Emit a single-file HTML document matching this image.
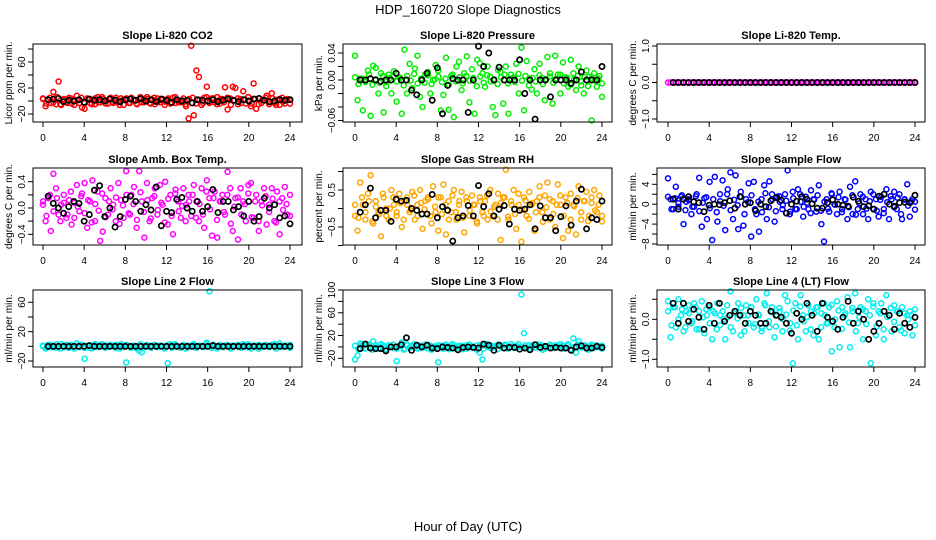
<!DOCTYPE html>
<html><head><meta charset="utf-8"><style>
html,body{margin:0;padding:0;background:#fff}
svg{display:block}
text{font-family:"Liberation Sans",Arial,sans-serif}
</style></head><body>
<svg id="chart" width="936" height="540" viewBox="0 0 936 540" xmlns="http://www.w3.org/2000/svg">
<text x="468" y="14" font-size="13" text-anchor="middle">HDP_160720  Slope Diagnostics</text>
<text x="468" y="531" font-size="13" text-anchor="middle">Hour of Day (UTC)</text>
</svg>
<script>
const xTicks = [0,4,8,12,16,20,24];
const co2Values = [4,-8,2,-3,14,-5,30,-6,3,-2,5,-4,2,8,-3,-10,-12,4,-3,2,-5,6,-2,3,1,-4,5,-3,2,-2,4,-6,3,-3,5,2,-4,3,-2,1,6,-3,2,-5,4,-2,3,-1,2,-4,5,-3,1,-2,4,-8,-27,85,-22,47,37,-6,5,22,-3,4,-2,6,-4,3,21,-13,4,22,20,-5,3,15,-4,6,-8,27,-12,4,-3,2,8,-5,12,-3,2,-6,5,-4,3,2];
const co2Band = [3,-4,5,-2,6,-5,2,-3,4,-6,1,5,-3,2,-5,4,-2,6,-4,3,-1,5,-6,2,4,-3,1,-5,6,-2,3,-4,5,-1,2,-6,4,-3,6,-2,1,-5,3,5,-4,2,-3,6,-1,4,-5,3,-2,5,-6,1,4,-3,2,6,-4,3,-5,1,5,-2,4,-6,3,-1,2,-4];
const co2Black = [2,3,4,-1,1,0,2,-2,3,1,2,0,3,1,-1,2,3,1,4,0,2,-1,3,1,-2,2,0,1,-3,2,1,0,2,-1,1,3,1,-1,2,0,3,4,1,-1,0,2,1,2];
const presValues = [0.036,-0.03,0.002,-0.045,0,0.014,-0.053,0.021,0.018,-0.02,0.01,-0.048,-0.003,0.008,-0.02,0.013,-0.032,0.004,-0.05,0.045,-0.02,0.024,-0.012,0.017,0.036,-0.025,-0.04,0.008,0.012,-0.02,0,0.022,0.014,-0.045,-0.022,0.033,-0.044,0.006,-0.055,0.02,0.027,-0.015,0.01,0.035,-0.033,0.016,-0.05,0.03,0.025,0.01,-0.01,0.02,0.005,-0.04,-0.052,0.015,0.012,-0.035,0.02,-0.05,0.008,0.004,0.024,-0.02,0.048,-0.045,0.028,0.002,-0.014,0.016,-0.02,0.024,0.003,-0.03,0.034,0.01,-0.035,0.036,0.008,-0.02,0.026,0.004,-0.01,0.03,0.01,-0.015,0.02,-0.008,-0.02,0.014,0.005,-0.06,0.01,-0.01,0.006,-0.025];
const presBand = [0.004,-0.006,0.002,-0.003,0.008,-0.007,0.001,-0.004,0.006,-0.009,0.003,0.005,-0.002,0.003,-0.008,0.006,-0.001,0.009,-0.005,0.002,-0.004,0.007,-0.006,0.001,0.005,-0.003,0.002,-0.007,0.008,-0.002,0.004,-0.005,0.006,-0.001,0.003,-0.009,0.005,-0.004,0.007,-0.002,0.001,-0.006,0.004,0.008,-0.005,0.002,-0.003,0.009,-0.001,0.006,-0.008,0.003,-0.002,0.007,-0.006,0.001,0.005,-0.004,0.002,0.008,-0.005,0.003,-0.007,0.001,0.006,-0.002,0.004,-0.009,0.003,-0.001,0.002,-0.005];
const presBlack = [0,0,0.002,0,-0.002,0,0,0.01,0,0,-0.015,-0.022,0,0.01,-0.03,0.018,-0.05,-0.008,0.002,0,0,-0.048,0,0.05,0.02,0.04,0,0.019,0,0,0,0.03,-0.02,0,-0.058,0,0,-0.025,0,0,0,-0.005,0,0.012,0,0,0,0.02];
const tempValues = [0,0,0,0,0,0,0,0,0,0,0,0,0,0,0,0,0,0,0,0,0,0,0,0,0,0,0,0,0,0,0,0,0,0,0,0,0,0,0,0,0,0,0,0,0,0,0,0,0,0,0,0,0,0,0,0,0,0,0,0,0,0,0,0,0,0,0,0,0,0,0,0,0,0,0,0,0,0,0,0,0,0,0,0,0,0,0,0,0,0,0,0,0,0,0,0];
const tempBand = [];
const tempBlack = [0,0,0,0,0,0,0,0,0,0,0,0,0,0,0,0,0,0,0,0,0,0,0,0,0,0,0,0,0,0,0,0,0,0,0,0,0,0,0,0,0,0,0,0,0,0,0,0];
const ambValues = [0.1,-0.2,0.15,-0.35,0.52,0.3,-0.1,0.05,0.2,-0.15,0.12,-0.25,0.08,0.35,-0.05,0.22,0.38,-0.3,0.1,0.42,-0.2,0.25,-0.5,-0.36,0.15,-0.1,0.3,0.05,-0.2,0.38,0.12,-0.15,0.56,-0.08,0.2,0.32,-0.3,0.56,0.1,-0.45,0.38,-0.2,0.15,0.3,-0.1,0.35,0.05,0.4,-0.25,0.2,-0.4,0.28,0.1,-0.15,0.3,0.05,0.2,-0.12,0.35,0.1,-0.2,0.3,-0.3,0.42,0.15,-0.42,0.25,-0.45,0.1,0.2,-0.1,0.55,0.3,-0.35,0.15,-0.48,0.3,0.1,-0.2,0.35,0.38,-0.15,0.2,-0.35,0.1,0.3,-0.25,0.05,0.3,-0.2,0.25,-0.4,0.15,0.32,-0.1,0.2];
const ambBand = [0.05,-0.12,0.2,-0.05,0.15,-0.2,0.08,-0.1,0.25,-0.15,0.02,0.18,-0.08,0.12,-0.22,0.06,-0.04,0.22,-0.14,0.1,-0.02,0.16,-0.24,0.04,0.2,-0.1,0.06,-0.18,0.24,-0.06,0.12,-0.16,0.18,-0.03,0.08,-0.22,0.14,-0.12,0.22,-0.05,0.03,-0.2,0.1,0.2,-0.15,0.06,-0.1,0.25,-0.02,0.15,-0.18,0.1,-0.06,0.2,-0.24,0.02,0.16,-0.1,0.06,0.22,-0.14,0.1,-0.2,0.04,0.18,-0.06,0.14,-0.22,0.1,-0.03,0.06,-0.12];
const ambBlack = [0.18,0.07,0,-0.08,0.02,0.1,0.07,-0.2,-0.1,0.27,0.34,-0.13,0,-0.29,-0.13,0.13,0.18,0.1,-0.05,0.05,-0.03,0.32,-0.27,-0.05,-0.07,0.13,0.16,0,-0.05,0.1,-0.05,0.02,0.28,-0.07,0.1,0.1,-0.03,0.02,-0.12,0.1,-0.2,-0.13,0.15,0,0.05,-0.15,-0.12,-0.24];
const rhValues = [-0.2,-0.6,0.7,0.1,-0.3,0.4,0.9,-0.4,0.2,-0.1,-0.75,0.3,0,-0.3,0.5,0.1,-0.2,0.4,-0.5,0.2,0.3,-0.1,0.45,-0.3,0.1,0.5,-0.55,0.2,0.3,-0.2,0.6,-0.1,-0.6,0.3,0.65,-0.7,0.2,-0.1,0.5,-0.3,0.1,0.45,-0.65,0.2,-0.2,0.35,0.1,-0.4,0.3,-0.1,0.2,-0.3,0.5,-0.2,0.1,0.4,-0.85,0.3,1.05,-0.3,0.2,0.5,-0.55,0.1,-0.9,0.3,-0.2,0.45,0.1,-0.6,0.2,0.6,-0.1,0.35,0.7,-0.3,0.2,-0.5,0.65,0.1,-0.8,0.3,-0.6,0.4,0.1,-0.7,0.6,-0.3,0.2,0.45,-0.2,0.3,0.5,-0.1,0.35,-0.35];
const rhBand = [0.1,-0.25,0.3,-0.1,0.2,-0.35,0.05,-0.15,0.4,-0.2,0.0,0.3,-0.1,0.15,-0.3,0.1,-0.05,0.35,-0.2,0.15,-0.02,0.25,-0.4,0.05,0.3,-0.15,0.1,-0.3,0.35,-0.1,0.2,-0.25,0.3,-0.05,0.1,-0.35,0.2,-0.2,0.35,-0.08,0.05,-0.3,0.15,0.3,-0.22,0.1,-0.15,0.4,-0.03,0.22,-0.28,0.15,-0.1,0.3,-0.36,0.03,0.25,-0.15,0.1,0.35,-0.2,0.15,-0.3,0.06,0.28,-0.1,0.2,-0.34,0.15,-0.05,0.1,-0.2];
const rhBlack = [-0.1,0.1,0.55,-0.25,-0.05,-0.05,-0.35,0.25,0.2,0.22,0,-0.05,-0.15,-0.15,0.38,-0.25,0.05,-0.05,-0.88,-0.25,-0.2,0.08,-0.2,0.62,0.05,0.4,-0.2,-0.02,0.08,-0.42,-0.02,-0.05,-0.02,0.1,-0.55,0.07,-0.25,-0.25,-0.6,-0.22,0.07,-0.45,0.2,0.52,-0.55,-0.25,-0.3,0.2];
const flowValues = [5.2,1,-1,3.5,-0.5,1.5,-4,0.5,1,-2,-0.5,2,5.3,-4.5,1.2,-3,4.5,-7.2,5.5,-3.5,2,4.8,-5.2,3,6.4,-3,5.8,-5,2.5,-4.3,1,4.2,-6.5,4.5,-2,-5.5,1,3.8,-3,4.6,2,-3.5,1.5,0.5,-1,2,6.8,-1.5,2.5,-1,3,0.5,-2.5,1.5,-1,2.8,1,-1.5,3.8,-4,-7.5,1,-1.5,2,0,-2,2.5,-1,1,-3,3.5,-2,4.6,-1,2,-2,1,-3,2.5,-1,1,-2.5,1.5,-1,3,-3,1,2.5,-1,2,-3,1,4,-2.5,1,0.5];
const flowBand = [1.5,-1,1.2,0.2,1.8,-1.2,0.8,-0.5,1.6,-1.4,0.3,1.4,-0.8,1,-1.6,0.6,-0.3,2,-1.2,0.9,-0.2,1.5,-2,0.4,1.8,-1,0.5,-1.6,2.2,-0.6,1,-1.4,1.6,-0.2,0.7,-2,1.2,-1,2,-0.5,0.3,-1.8,0.9,1.8,-1.3,0.5,-0.9,2.2,-0.1,1.4,-1.6,0.9,-0.6,1.8,-2.1,0.2,1.5,-0.9,0.6,2,-1.3,0.9,-1.8,0.4,1.6,-0.6,1.3,-2,0.9,-0.3,0.6,-1.1];
const flowBlack = [1,-1,1,1.5,0.5,0.3,-1.5,-0.2,0,-0.1,0.3,0.7,-0.8,1.5,0,0.3,-1.3,0,-0.5,0.7,1.3,0.8,-1.8,0,0.6,1.5,1,0.1,-0.8,-0.8,0.3,0.9,0,-0.2,-0.4,1.4,0.6,-0.5,-0.3,-1,1.6,2,0,-0.4,0.3,0.4,0.3,1.8];
const line2Values = [0,-3,2,-1,1,-2,0,3,-1,2,-2,1,0,4,-1,2,-17,1,-2,0,3,-1,2,0,1,-1,2,0,-2,1,3,-1,-22,1,-2,0,-1,-6,-8,1,2,-1,0,2,-1,1,0,-2,-23,3,-1,1,0,-2,2,1,-1,0,3,-2,1,0,-1,5,75,-2,1,0,2,-1,1,0,-2,1,0,2,-1,3,0,-1,-3,1,0,2,-1,1,0,-1,2,3,0,4,-1,1,0,2];
const line2Band = [1,-2,2,-1,3,-3,1,-1,2,-3,0,2,-2,1,-3,2,-1,3,-2,1,0,2,-3,1,2,-1,1,-3,3,-1,1,-2,2,0,1,-3,2,-2,3,-1,0,-3,1,2,-2,1,-1,3,0,2,-3,1,-1,2,-3,0,2,-2,1,3,-2,1,-3,0,2,-1,2,-3,1,0,1,-2];
const line2Black = [0,0,0,0,0,0,0,0,1,0,0,0,0,0,0,0,0,0,0,0,0,0,0,0,0,0,0,0,0,0,0,0,1,0,0,0,0,0,0,0,0,0,0,0,0,0,0,0];
const line3Values = [-22,-15,6,2,-3,4,-1,10,3,-2,5,0,-4,3,1,-2,-25,2,8,-3,4,-1,2,0,3,-2,1,4,-3,2,0,-1,-27,2,-3,4,0,-2,3,1,-1,2,0,-3,4,1,-2,3,-10,-22,2,0,3,-1,2,4,1,-2,3,0,5,-1,2,0,92,24,-2,3,1,-1,4,0,2,-3,1,4,-2,3,0,1,2,-2,5,-4,15,-10,10,0,2,-3,1,4,-2,3,0,2];
const line3Band = [2,-4,5,-2,4,-5,1,-3,3,-5,0,4,-3,2,-5,3,-1,5,-3,2,-1,4,-5,1,3,-2,1,-4,5,-2,2,-4,3,-1,1,-5,3,-3,5,-2,0,-4,2,4,-3,1,-2,5,0,3,-4,2,-1,4,-5,1,3,-2,1,5,-3,2,-4,0,4,-1,3,-5,2,-1,1,-3];
const line3Black = [-3,5,-2,-3,-3,-7,0,0,4,16,-6,3,0,3,-2,-3,0,-1,-2,-5,-1,0,-1,-2,5,3,-6,3,-2,-1,-1,-4,-2,-5,4,-1,1,-2,-1,-2,-2,-6,0,2,-2,-2,1,-1];
const line4Values = [0.45,-0.45,0.3,-0.2,0.5,0.1,-0.3,0.2,0.35,-0.1,0.4,-0.25,0.2,0.45,-0.35,0.1,0.3,-0.5,0.15,0.4,-0.15,0.2,-0.5,0.05,0.7,-0.3,0.2,0.4,-0.4,0.1,0.35,-0.1,0.3,-0.2,0.5,0.1,-0.3,0.4,0.65,-0.2,0.3,-0.45,0.1,0.2,-0.3,0.6,0.45,-0.1,-1.1,0.4,-0.5,0.6,0.1,-0.3,0.35,0.2,-0.4,0.3,-0.5,0.15,0.4,-0.1,0.3,-0.8,-0.2,0.45,-0.7,0.3,0.1,0.55,-0.7,0.2,0.65,-0.1,0.3,-0.5,0.2,0.5,-1.1,0.4,-0.4,0.2,0.4,-0.5,0.6,0.1,-0.3,0.35,0.2,-0.2,0.3,-0.35,0.1,0.2,-0.4,0.25];
const line4Band = [0.2,-0.15,0.3,0.0,0.25,-0.2,0.15,-0.05,0.3,-0.25,0.05,0.25,-0.1,0.2,-0.25,0.1,0.0,0.35,-0.2,0.15,0.02,0.28,-0.3,0.1,0.3,-0.12,0.12,-0.22,0.35,-0.05,0.18,-0.18,0.28,0.0,0.12,-0.28,0.22,-0.15,0.32,-0.05,0.06,-0.25,0.15,0.3,-0.2,0.1,-0.1,0.36,0.0,0.22,-0.24,0.15,-0.08,0.28,-0.3,0.05,0.25,-0.12,0.1,0.32,-0.18,0.15,-0.25,0.06,0.28,-0.06,0.2,-0.28,0.15,0.0,0.1,-0.15];
const line4Black = [0.4,-0.1,0.4,-0.05,0.25,0.05,-0.25,0.35,-0.1,0.4,-0.05,0.1,0.2,0.1,-0.1,0.2,0.1,-0.1,-0.1,0.2,0.1,0.05,-0.1,-0.35,0.15,0,0.4,0.1,-0.3,0.4,0.05,-0.05,-0.25,0.05,0.45,-0.1,0.2,0,-0.5,-0.3,-0.1,0.2,0.1,-0.25,0.15,-0.1,-0.2,0.05];
const co2Ticks=[-20,0,20,40,60,80], co2Labels=[-20,20,60];
const presTicks=[-0.06,-0.04,-0.02,0,0.02,0.04], presLabels=["0.04","0.00","-0.06"];
const tempTicks=[-1,-0.5,0,0.5,1], tempLabels=["1.0","0.0","-1.0"];
const ambTicks=[-0.4,-0.2,0,0.2,0.4], ambLabels=["0.4","0.0","-0.4"];
const rhTicks=[-1,-0.5,0,0.5,1], rhLabels=["0.5","-0.5"];
const flowTicks=[-8,-6,-4,-2,0,2,4,6], flowLabels=["4","0","-4","-8"];
const line2Ticks=[-20,0,20,40,60,80], line2Labels=["20","60","-20"];
const line3Ticks=[-20,0,20,40,60,80,100], line3Labels=["100","60","20","-20"];
const line4Ticks=[-1,-0.5,0,0.5], line4Labels=["0.0","-1.0"];

const cols=[{l:33,r:302,x0:43,x24:290},{l:343,r:612,x0:355,x24:602},{l:657,r:925,x0:668,x24:915}];
const rows=[{t:44,b:122},{t:168,b:245},{t:290,b:367}];
const panels=[
 {name:'co2',title:'Slope Li-820 CO2',ylab:'Licor ppm per min.',c:0,r:0,col:'#ff0000',vals:co2Values,band:co2Band,blk:co2Black,ticks:co2Ticks,labels:co2Labels,v1:60,p1:62,v2:-20,p2:114},
 {name:'pressure',title:'Slope Li-820 Pressure',ylab:'kPa per min.',c:1,r:0,col:'#00ee00',vals:presValues,band:presBand,blk:presBlack,ticks:presTicks,labels:presLabels,v1:0.04,p1:53,v2:-0.06,p2:120.5},
 {name:'li820-temp',title:'Slope Li-820 Temp.',ylab:'degrees C per min.',c:2,r:0,col:'#ff00ff',vals:tempValues,band:tempBand,blk:tempBlack,ticks:tempTicks,labels:tempLabels,v1:1,p1:46,v2:-1,p2:119},
 {name:'amb-box-temp',title:'Slope Amb. Box Temp.',ylab:'degrees C per min.',c:0,r:1,col:'#ff00ff',vals:ambValues,band:ambBand,blk:ambBlack,ticks:ambTicks,labels:ambLabels,v1:0.4,p1:181.7,v2:-0.4,p2:234.3},
 {name:'gas-stream-rh',title:'Slope Gas Stream RH',ylab:'percent per min.',c:1,r:1,col:'#ffa500',vals:rhValues,band:rhBand,blk:rhBlack,ticks:rhTicks,labels:rhLabels,v1:0.5,p1:190,v2:-0.5,p2:227},
 {name:'sample-flow',title:'Slope Sample Flow',ylab:'ml/min per min.',c:2,r:1,col:'#0000ff',vals:flowValues,band:flowBand,blk:flowBlack,ticks:flowTicks,labels:flowLabels,v1:4,p1:184.3,v2:-8,p2:244},
 {name:'line2-flow',title:'Slope Line 2 Flow',ylab:'ml/min per min.',c:0,r:2,col:'#00eeee',vals:line2Values,band:line2Band,blk:line2Black,ticks:line2Ticks,labels:line2Labels,v1:60,p1:302.3,v2:-20,p2:361},
 {name:'line3-flow',title:'Slope Line 3 Flow',ylab:'ml/min per min.',c:1,r:2,col:'#00eeee',vals:line3Values,band:line3Band,blk:line3Black,ticks:line3Ticks,labels:line3Labels,v1:100,p1:290,v2:-20,p2:358.3},
 {name:'line4-flow',title:'Slope Line 4 (LT) Flow',ylab:'ml/min per min.',c:2,r:2,col:'#00eeee',vals:line4Values,band:line4Band,blk:line4Black,ticks:line4Ticks,labels:line4Labels,v1:0,p1:319.3,v2:-1,p2:359.3}
];
const NS='http://www.w3.org/2000/svg';
const svg=document.getElementById('chart');
function mk(tag,attrs,parent){const e=document.createElementNS(NS,tag);for(const k in attrs)e.setAttribute(k,attrs[k]);parent.appendChild(e);return e;}
panels.forEach(p=>{
 const C=cols[p.c],R=rows[p.r];
 const xs=h=>C.x0+(C.x24-C.x0)*h/24;
 const ys=v=>p.p1+(v-p.v1)*(p.p2-p.p1)/(p.v2-p.v1);
 const g=mk('g',{},svg);
 
 
 const t=mk('text',{x:(C.l+C.r)/2,y:R.t-5,'font-size':11,'font-weight':'bold','text-anchor':'middle'},g);
 t.textContent=p.title;
 
 
 const yl=mk('text',{x:0,y:0,'font-size':10,'text-anchor':'middle',transform:`translate(${C.l-21},${(R.t+R.b)/2}) rotate(-90)`},g);
 yl.textContent=p.ylab;
 
 
 const pts=mk('g',{fill:'none','stroke-width':1.5},g);
 
 
 p.band.forEach((v,i)=>{
  const h=24*i/(p.band.length-1);
  const c=mk('circle',{cx:xs(h),cy:ys(v),r:2.5,stroke:p.col},pts);
  
  
 });
 p.vals.forEach((v,i)=>{
  const h=24*i/(p.vals.length-1);
  const c=mk('circle',{cx:xs(h),cy:ys(v),r:2.5,stroke:p.col},pts);
  
  
 });
 p.blk.forEach((v,i)=>{
  const h=0.5+23.5*i/(p.blk.length-1);
  const c=mk('circle',{cx:xs(h),cy:ys(v),r:2.6,stroke:'#000','stroke-width':1.7},pts);
  
  
 });
 const box=mk('rect',{x:C.l,y:R.t,width:C.r-C.l,height:R.b-R.t,fill:'none',stroke:'#000','stroke-width':1},g);
 
 
 const xa=mk('g',{},g);
 
 
 mk('line',{x1:xs(0),x2:xs(24),y1:R.b,y2:R.b,stroke:'#000'},xa);
 xTicks.forEach(h=>{
  mk('line',{x1:xs(h),x2:xs(h),y1:R.b,y2:R.b+5,stroke:'#000'},xa);
  const tl=mk('text',{x:xs(h),y:R.b+19,'font-size':10,'text-anchor':'middle'},xa);
  tl.textContent=h;
  
  
 });
 const ya=mk('g',{},g);
 
 
 const tv=p.ticks.filter(v=>ys(v)>=R.t-1&&ys(v)<=R.b+1);
 mk('line',{x1:C.l,x2:C.l,y1:ys(Math.min(...tv)),y2:ys(Math.max(...tv)),stroke:'#000'},ya);
 tv.forEach(v=>mk('line',{x1:C.l-5,x2:C.l,y1:ys(v),y2:ys(v),stroke:'#000'},ya));
 p.labels.forEach(l=>{
  const v=parseFloat(l);
  const tl=mk('text',{x:0,y:0,'font-size':10,'text-anchor':'middle',transform:`translate(${C.l-8},${ys(v)}) rotate(-90)`},ya);
  tl.textContent=String(l).replace('-','\u2212');
  
  
 });
});
</script>
</body></html>
